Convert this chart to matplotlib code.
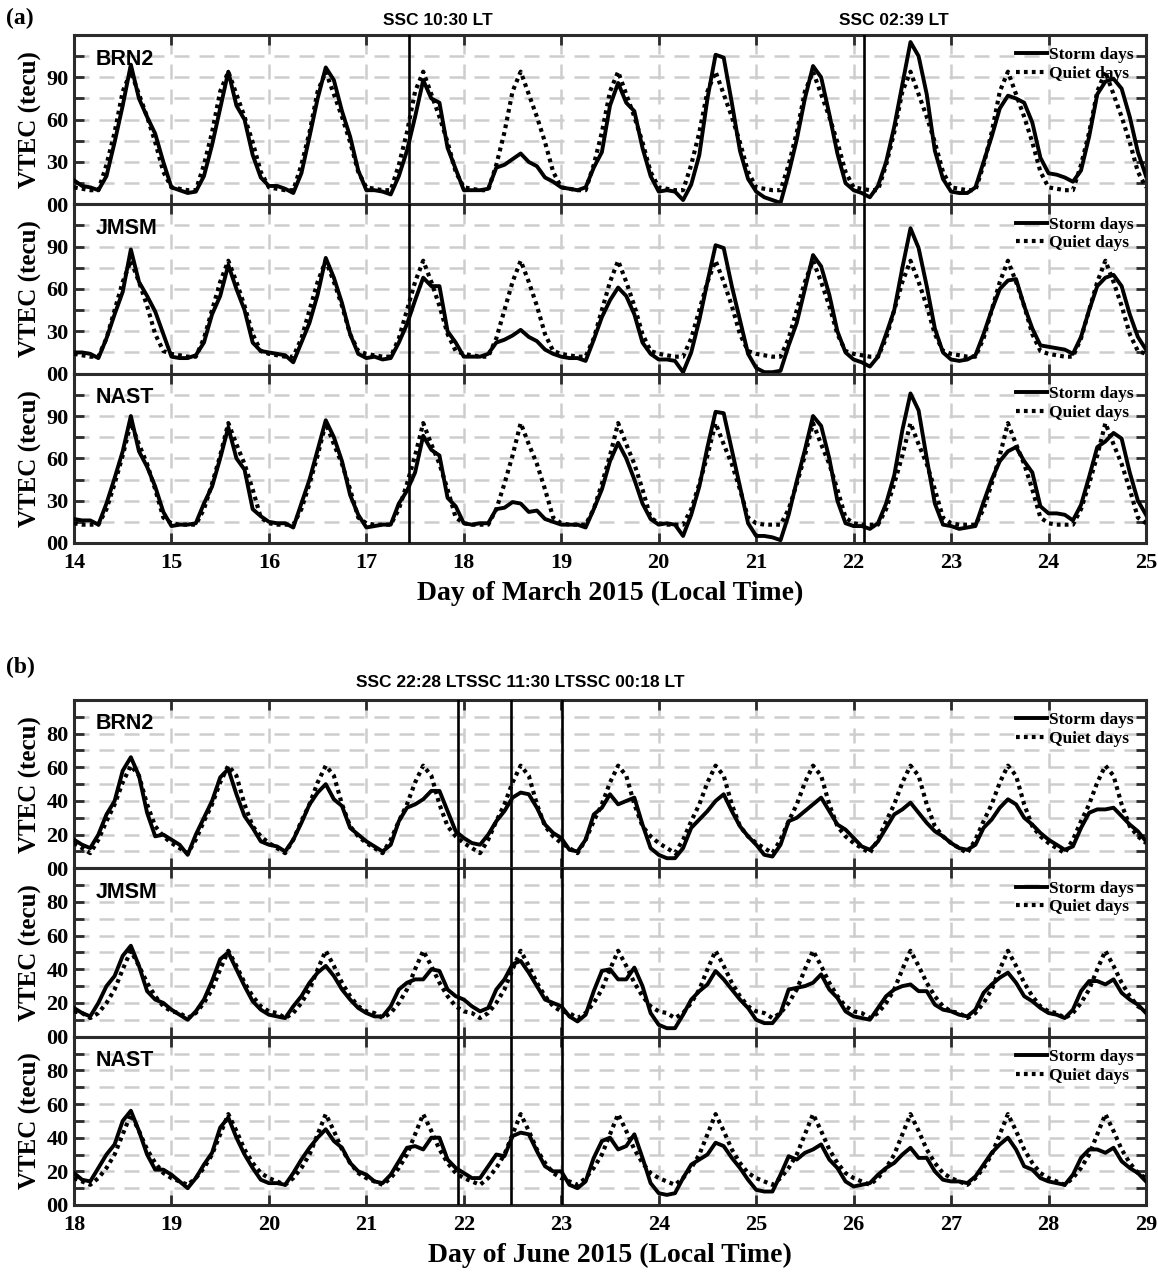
import numpy as np
import matplotlib
matplotlib.use('Agg')
import matplotlib.pyplot as plt

plt.rcParams['font.family'] = 'serif'
plt.rcParams['font.serif'] = ['Liberation Serif', 'DejaVu Serif']
plt.rcParams['font.weight'] = 'bold'

# sampling hours of each day (local time)
hours = np.arange(0, 24, 2)

stations = ['BRN2', 'JMSM', 'NAST']

# ---- March 2015 ----
mar_days = list(range(14, 25))
mar_ssc_day = [17, 22]
mar_ssc_time = ['10:30', '02:39']

brn2_mar_storm = [
    [17, 13, 12, 10, 20, 44, 70, 99, 75, 62, 50, 30],
    [12, 10, 8, 9, 20, 42, 68, 94, 70, 60, 35, 19],
    [13, 13, 11, 8, 22, 48, 75, 97, 88, 66, 48, 24],
    [10, 10, 9, 7, 20, 38, 62, 88, 75, 72, 40, 25],
    [10, 10, 10, 11, 26, 28, 32, 36, 30, 27, 19, 16],
    [12, 11, 10, 12, 26, 37, 70, 86, 72, 66, 40, 20],
    [9, 10, 9, 3, 14, 35, 75, 106, 104, 72, 38, 18],
    [9, 5, 3, 1, 22, 46, 75, 98, 90, 64, 36, 15],
    [10, 8, 5, 13, 30, 55, 85, 115, 105, 78, 38, 18],
    [9, 8, 8, 12, 30, 48, 68, 77, 75, 72, 58, 33],
    [22, 21, 19, 16, 24, 48, 78, 87, 89, 82, 62, 37],
]
brn2_mar_end = 20
brn2_mar_quiet = [12, 11, 10, 10, 28, 51, 80, 94, 78, 62, 44, 23]

jmsm_mar_storm = [
    [15, 15, 14, 11, 25, 42, 58, 88, 65, 55, 44, 28],
    [12, 11, 11, 13, 22, 42, 55, 77, 60, 45, 22, 16],
    [15, 14, 13, 8, 22, 36, 56, 82, 68, 50, 28, 14],
    [11, 12, 10, 11, 22, 35, 52, 68, 62, 62, 30, 22],
    [12, 12, 12, 14, 22, 24, 27, 31, 26, 23, 17, 14],
    [12, 11, 11, 9, 24, 40, 52, 61, 55, 42, 22, 14],
    [10, 10, 9, 1, 15, 38, 65, 91, 89, 62, 38, 14],
    [4, 1, 1, 2, 20, 36, 60, 84, 76, 56, 30, 15],
    [10, 8, 5, 12, 28, 45, 75, 103, 89, 62, 32, 15],
    [10, 9, 10, 13, 28, 45, 60, 66, 67, 48, 32, 20],
    [19, 18, 17, 14, 26, 45, 62, 68, 70, 62, 42, 26],
]
jmsm_mar_end = 17
jmsm_mar_quiet = [14, 13, 12, 12, 25, 45, 65, 80, 65, 48, 28, 16]

nast_mar_storm = [
    [17, 16, 16, 13, 28, 46, 65, 90, 65, 54, 40, 22],
    [12, 13, 13, 14, 28, 40, 60, 82, 60, 52, 24, 19],
    [15, 14, 14, 11, 28, 45, 66, 87, 75, 58, 34, 20],
    [11, 12, 13, 13, 28, 37, 50, 76, 66, 62, 32, 26],
    [14, 13, 14, 14, 24, 25, 29, 28, 22, 23, 17, 15],
    [13, 13, 13, 11, 24, 38, 58, 71, 60, 45, 28, 17],
    [13, 14, 13, 5, 20, 40, 68, 93, 92, 66, 40, 14],
    [5, 5, 4, 2, 20, 44, 66, 90, 83, 60, 30, 14],
    [12, 12, 10, 14, 28, 48, 80, 106, 94, 60, 28, 13],
    [12, 10, 11, 12, 29, 45, 58, 65, 68, 58, 50, 26],
    [21, 21, 20, 16, 27, 47, 68, 72, 78, 74, 50, 30],
]
nast_mar_end = 20
nast_mar_quiet = [14, 13, 13, 13, 24, 42, 62, 85, 70, 56, 38, 18]

# ---- June 2015 ----
jun_days = list(range(18, 29))
jun_ssc_day = [21, 22, 23]
jun_ssc_time = ['22:28', '11:30', '00:18']

brn2_jun_storm = [
    [17, 14, 12, 20, 32, 40, 58, 66, 55, 33, 19, 20],
    [17, 14, 8, 20, 30, 40, 54, 59, 44, 31, 24, 16],
    [14, 13, 10, 17, 27, 38, 45, 50, 41, 37, 24, 20],
    [16, 13, 10, 14, 28, 36, 38, 41, 46, 46, 34, 22],
    [18, 15, 14, 20, 28, 34, 42, 45, 44, 36, 26, 21],
    [18, 11, 10, 17, 32, 36, 44, 38, 40, 42, 26, 12],
    [8, 6, 6, 12, 24, 29, 34, 40, 44, 34, 25, 19],
    [14, 8, 7, 14, 28, 30, 34, 38, 42, 34, 26, 23],
    [18, 13, 11, 16, 24, 32, 35, 39, 33, 27, 22, 19],
    [15, 12, 11, 14, 24, 29, 36, 41, 38, 30, 26, 21],
    [17, 14, 11, 13, 24, 33, 35, 35, 36, 31, 26, 22],
]
brn2_jun_end = 16
brn2_jun_quiet = [15, 12, 9, 17, 28, 38, 51, 61, 55, 38, 25, 19]

jmsm_jun_storm = [
    [17, 14, 12, 20, 30, 36, 48, 54, 42, 27, 22, 20],
    [16, 13, 10, 15, 22, 33, 46, 50, 40, 30, 21, 16],
    [13, 12, 11, 18, 24, 32, 38, 42, 36, 28, 22, 17],
    [14, 12, 12, 18, 28, 32, 34, 34, 40, 39, 28, 24],
    [22, 18, 15, 17, 28, 34, 43, 45, 38, 30, 22, 20],
    [18, 12, 9, 13, 27, 39, 40, 34, 34, 41, 30, 14],
    [7, 5, 5, 13, 22, 27, 31, 39, 34, 28, 22, 17],
    [10, 8, 8, 14, 28, 29, 30, 32, 37, 28, 23, 15],
    [12, 11, 10, 17, 24, 28, 30, 31, 27, 27, 19, 16],
    [15, 13, 12, 16, 26, 31, 35, 38, 32, 24, 21, 17],
    [14, 13, 11, 16, 27, 33, 33, 31, 34, 26, 22, 19],
]
jmsm_jun_end = 14
jmsm_jun_quiet = [15, 14, 11, 14, 20, 28, 40, 51, 42, 32, 24, 18]

nast_jun_storm = [
    [19, 15, 14, 22, 30, 36, 50, 56, 44, 30, 21, 21],
    [18, 14, 10, 16, 24, 31, 46, 52, 40, 30, 22, 15],
    [13, 13, 12, 19, 27, 34, 40, 45, 38, 34, 25, 20],
    [18, 14, 13, 18, 26, 34, 35, 33, 40, 40, 27, 22],
    [19, 16, 16, 23, 30, 29, 41, 43, 42, 32, 23, 20],
    [20, 12, 10, 14, 28, 38, 40, 33, 35, 42, 28, 13],
    [7, 6, 7, 16, 24, 27, 30, 37, 35, 28, 22, 15],
    [9, 8, 8, 18, 29, 27, 31, 33, 36, 27, 22, 14],
    [11, 12, 13, 18, 22, 25, 30, 34, 28, 28, 20, 15],
    [14, 14, 13, 17, 24, 31, 36, 40, 33, 23, 21, 16],
    [14, 13, 12, 18, 28, 33, 33, 31, 34, 26, 22, 19],
]
nast_jun_end = 14
nast_jun_quiet = [16, 14, 12, 16, 22, 30, 42, 54, 44, 33, 25, 19]


W, H = 1158, 1273
SPINE = '#2b2b2b'


def rect(left, top, width, height):
    return [left / W, 1 - (top + height) / H, width / W, height / H]


def to_series(days, rows, end_val):
    t = [d + h / 24 for d in days for h in hours] + [days[-1] + 1]
    v = [x for row in rows for x in row] + [end_val]
    return np.array(t), np.array(v)


def ssc_decimal(day, hhmm):
    hh, mm = hhmm.split(':')
    return day + (int(hh) + int(mm) / 60) / 24


def draw_panel(fig, tops, axh, days, storms, ends, quiets, ymax, ystep, ylab_step,
               ssc_x, xlabel):
    axes = []
    for i, name in enumerate(stations):
        ax = fig.add_axes(rect(74, tops[i], 1072, axh))
        t, v = to_series(days, storms[i], ends[i])
        tq, vq = to_series(days, [quiets[i]] * len(days), quiets[i][0])
        ax.plot(t, v, color='black', lw=2.8, label='Storm days', zorder=4,
                solid_joinstyle='round')
        ax.plot(tq, vq, color='black', lw=3.0, linestyle=(0, (0.9, 1.0)),
                label='Quiet days', zorder=3)
        for xs in ssc_x:
            ax.axvline(xs, color='black', lw=1.9, zorder=5)

        ax.set_xlim(days[0], days[-1] + 1)
        ax.set_ylim(0, ymax)
        ax.set_xticks(range(days[0], days[-1] + 2))
        yt = list(range(0, ymax, ystep))
        ax.set_yticks(yt)
        ax.set_yticklabels(['%02d' % y if y % ylab_step == 0 else '' for y in yt])
        ax.tick_params(direction='in', length=7, width=2, top=True, right=True,
                       color=SPINE, labelsize=16, pad=4)
        ax.tick_params(axis='x', pad=7)
        if i < 2:
            ax.tick_params(labelbottom=False)
        for s in ax.spines.values():
            s.set_linewidth(2.2)
            s.set_color(SPINE)
        ax.grid(True, linestyle=(0, (6, 4)), color='#cdcdcd', lw=1.8)
        ax.set_axisbelow(True)
        ax.set_ylabel('VTEC (tecu)', fontsize=18, fontweight='bold', labelpad=3)
        ax.text(0.02, 0.92, name, transform=ax.transAxes, ha='left', va='top',
                fontsize=15.5, fontweight='bold', family='Liberation Sans', zorder=6)
        ax.legend(loc='upper right', frameon=False, fontsize=12.5,
                  handlelength=1.8, handletextpad=0.1, labelspacing=0.15,
                  borderaxespad=0.4, borderpad=0.3)
        axes.append(ax)
    axes[-1].set_xlabel(xlabel, fontsize=20, fontweight='bold', labelpad=6)
    return axes


fig = plt.figure(figsize=(W / 100, H / 100), dpi=100)

# panel (a)
mar_ssc = [ssc_decimal(d, s) for d, s in zip(mar_ssc_day, mar_ssc_time)]
axes_a = draw_panel(fig, [35, 204.3, 373.7], 169.3, mar_days,
                    [brn2_mar_storm, jmsm_mar_storm, nast_mar_storm],
                    [brn2_mar_end, jmsm_mar_end, nast_mar_end],
                    [brn2_mar_quiet, jmsm_mar_quiet, nast_mar_quiet],
                    120, 15, 30, mar_ssc, 'Day of March 2015 (Local Time)')
for xs, s in zip(mar_ssc, mar_ssc_time):
    axes_a[0].text(xs + 0.3, 1.04, 'SSC %s LT' % s,
                   transform=axes_a[0].get_xaxis_transform(), ha='center', va='bottom',
                   fontsize=12.5, fontweight='bold', family='Liberation Sans')
fig.text(6 / W, 1 - 18 / H, '(a)', fontsize=17, fontweight='bold', va='center')

# panel (b)
jun_ssc = [ssc_decimal(d, s) for d, s in zip(jun_ssc_day, jun_ssc_time)]
axes_b = draw_panel(fig, [700, 868.3, 1036.7], 168.3, jun_days,
                    [brn2_jun_storm, jmsm_jun_storm, nast_jun_storm],
                    [brn2_jun_end, jmsm_jun_end, nast_jun_end],
                    [brn2_jun_quiet, jmsm_jun_quiet, nast_jun_quiet],
                    100, 10, 20, jun_ssc, 'Day of June 2015 (Local Time)')
axes_b[0].text(np.mean(jun_ssc) + 0.1, 1.06,
               ''.join('SSC %s LT' % s for s in jun_ssc_time),
               transform=axes_b[0].get_xaxis_transform(), ha='center', va='bottom',
               fontsize=12.5, fontweight='bold', family='Liberation Sans')
fig.text(6 / W, 1 - 667 / H, '(b)', fontsize=17, fontweight='bold', va='center')

fig.savefig('out.png', dpi=100)
